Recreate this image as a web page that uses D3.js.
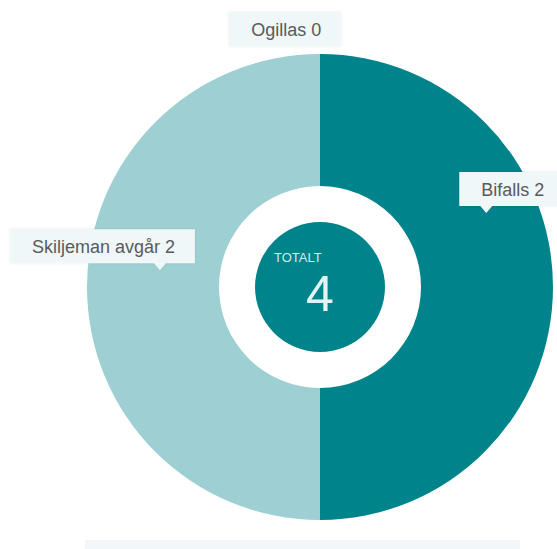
<!DOCTYPE html>
<html>
<head>
<meta charset="utf-8">
<script src="https://cdn.jsdelivr.net/npm/d3@7"></script>
<style>
  body { margin: 0; background: #fff; }
  svg text { font-family: "Liberation Sans", Arial, sans-serif; }
</style>
</head>
<body>
<div id="chart"></div>
<script>
// data
const categories = ['Bifalls', 'Skiljeman avgår', 'Ogillas']
const values = [2, 2, 0]
const colors = ['#00838a', '#9dcfd3', '#5fb3b8']
const totalLabel = 'TOTALT'

// label placement (angle in degrees from top, radius of pointer tip)
const labelPos = [
  { angle: 66, r: 182, dx: -27, pointer: true },
  { angle: -84, r: 161, dx: -150, pointer: true },
  { angle: -8, r: 243, dx: -57, pointer: false }
]

const W = 557
const H = 549
const cx = 320
const cy = 287
const R = 233

const svg = d3.select('#chart').append('svg')
  .attr('width', W)
  .attr('height', H)

// faint strip at the bottom (legend area)
svg.append('rect')
  .attr('x', 85).attr('y', 540).attr('width', 435).attr('height', 12)
  .attr('fill', '#f2f8f9')

const g = svg.append('g').attr('transform', `translate(${cx},${cy})`)

const pie = d3.pie().sort(null).startAngle(0).endAngle(2 * Math.PI)
const arcs = pie(values)
const arc = d3.arc().innerRadius(101).outerRadius(R)

g.selectAll('.slice')
  .data(arcs)
  .enter()
  .append('path')
  .attr('class', 'slice')
  .attr('d', arc)
  .attr('fill', (d, i) => colors[i])

// center circle
g.append('circle').attr('r', 65).attr('fill', colors[0])
g.append('text')
  .attr('x', -46).attr('y', -25)
  .attr('font-size', 13)
  .attr('fill', '#d4eced')
  .text(totalLabel)
g.append('text')
  .attr('x', 0).attr('y', 24)
  .attr('text-anchor', 'middle')
  .attr('font-size', 50)
  .attr('font-weight', 300)
  .attr('fill', '#e3f3f4')
  .text(d3.sum(values))

// labels
const defs = svg.append('defs')
const f = defs.append('filter').attr('id', 'sh').attr('x', '-10%').attr('y', '-20%').attr('width', '120%').attr('height', '150%')
f.append('feDropShadow').attr('dx', 0).attr('dy', 0).attr('stdDeviation', 1.2).attr('flood-color', '#000').attr('flood-opacity', 0.1)

categories.forEach((c, i) => {
  const p = labelPos[i]
  const a = p.angle * Math.PI / 180
  const tx = Math.sin(a) * p.r
  const ty = -Math.cos(a) * p.r
  const lg = g.append('g').attr('transform', `translate(${tx},${ty})`)
  const txt = lg.append('text')
    .attr('font-size', 18)
    .attr('fill', '#5a5a5a')
    .text(c + ' ' + values[i])
  const tw = txt.node().getComputedTextLength()
  const bx = p.dx
  const bh = 34
  const by = p.pointer ? -7 - bh : -bh
  const bw = tw + 42
  const path = d3.path()
  path.moveTo(bx, by)
  path.lineTo(bx + bw, by)
  path.lineTo(bx + bw, by + bh)
  if (p.pointer) {
    path.lineTo(6, by + bh)
    path.lineTo(0, 0)
    path.lineTo(-6, by + bh)
  }
  path.lineTo(bx, by + bh)
  path.closePath()
  lg.insert('path', 'text')
    .attr('d', path.toString())
    .attr('fill', '#eff7f8')
    .attr('filter', 'url(#sh)')
  txt.attr('x', bx + 22).attr('y', by + 24)
})
</script>
</body>
</html>
